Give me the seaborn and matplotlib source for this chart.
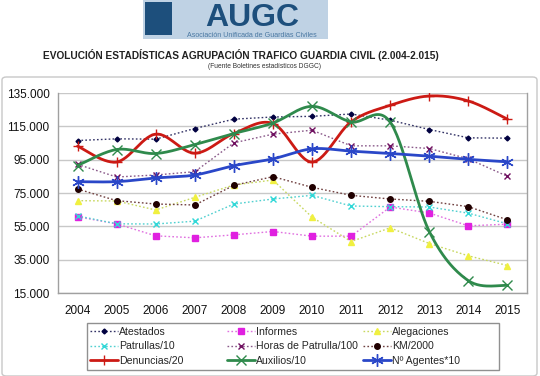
import numpy as np
import pandas as pd
import matplotlib
matplotlib.use("Agg")
import matplotlib.pyplot as plt
import seaborn as sns
from matplotlib.patches import Rectangle, FancyBboxPatch
from matplotlib.lines import Line2D

# Data
years = [2004, 2005, 2006, 2007, 2008, 2009, 2010, 2011, 2012, 2013, 2014, 2015]
atestados = [106500, 107500, 107300, 113700, 119300, 120600, 121000, 122400, 118700, 113100, 108100, 107900]
informes = [60700, 56500, 49300, 48100, 49900, 51900, 49100, 49100, 66600, 63000, 55300, 56300]
alegaciones = [70400, 70200, 64800, 72400, 79800, 82800, 60500, 45900, 54100, 44700, 37300, 31500]
patrullas = [61300, 56500, 56400, 58100, 68400, 71400, 73600, 67200, 66800, 66600, 62900, 56500]
horas = [92200, 84600, 85800, 87800, 105100, 110300, 112700, 103300, 103300, 101700, 95500, 85000]
km = [77400, 70400, 68400, 67800, 79600, 84800, 78400, 73600, 71400, 70000, 66800, 58900]
denuncias = [103100, 93600, 110300, 98900, 110700, 116700, 93600, 117700, 127600, 133200, 130200, 119300]
auxilios = [91500, 101100, 98700, 104100, 110700, 117000, 127000, 117700, 117500, 51900, 22400, 19600]
agentes = [81800, 81800, 84000, 85800, 91400, 95500, 101500, 100100, 98700, 97100, 95200, 93700]

ytick_vals = [15000, 35000, 55000, 75000, 95000, 115000, 135000]
ytick_labels = ["15.000", "35.000", "55.000", "75.000", "95.000", "115.000", "135.000"]

W, H = 540, 376


def smooth(xs, ys, n=30):
    # Excel-style smoothed line (Bezier through the points)
    p = np.column_stack([xs, ys]).astype(float)
    ext = np.vstack([p[0], p, p[-1]])
    out = []
    t = np.linspace(0, 1, n)[:, None]
    for i in range(len(p) - 1):
        p0, p1 = ext[i + 1], ext[i + 2]
        c1 = p0 + (ext[i + 2] - ext[i]) / 6
        c2 = p1 - (ext[i + 3] - ext[i + 1]) / 6
        seg = ((1 - t) ** 3) * p0 + 3 * ((1 - t) ** 2) * t * c1 + 3 * (1 - t) * t ** 2 * c2 + t ** 3 * p1
        out.append(seg if i == 0 else seg[1:])
    out = np.vstack(out)
    return out[:, 0], out[:, 1]


sns.set_style("white")
plt.rcParams['font.family'] = ['Liberation Sans', 'DejaVu Sans']

fig = plt.figure(figsize=(5.4, 3.76), dpi=100)

# Outer chart frame
fig.patches.append(FancyBboxPatch((2 / W, 0.0), 535 / W, 1 - 77 / H,
                                  boxstyle="round,pad=0,rounding_size=0.008",
                                  transform=fig.transFigure, fill=False,
                                  edgecolor="#c8c8c8", linewidth=1.0))

# Logo (drawn as shapes + text)
fig.patches.append(Rectangle((143 / W, 1 - 39 / H), 185 / W, 39 / H,
                             transform=fig.transFigure, facecolor="#bfd2e4", edgecolor="none"))
fig.patches.append(Rectangle((145 / W, 1 - 35 / H), 27 / W, 33 / H,
                             transform=fig.transFigure, facecolor="#1d4f7c", edgecolor="none"))
fig.text(252 / W, 1 - 25.5 / H, "AUGC", ha="center", va="baseline", fontsize=23,
         fontweight="bold", color="#1d4f7c")
fig.text(252 / W, 1 - 35.5 / H, "Asociación Unificada de Guardias Civiles", ha="center",
         va="center", fontsize=5.1, color="#4a78a2")

fig.text(241 / W, 1 - 55 / H,
         "EVOLUCIÓN ESTADÍSTICAS AGRUPACIÓN TRAFICO GUARDIA CIVIL (2.004-2.015)",
         ha="center", va="center", fontsize=7.3, fontweight="bold", color="#222222")
fig.text(264 / W, 1 - 66 / H, "(Fuente Boletines estadísticos DGGC)",
         ha="center", va="center", fontsize=4.8, color="#333333")

ax = fig.add_axes([58 / W, 1 - 293 / H, 469 / W, 200 / H])

dotted = [
    ("Atestados", atestados, "#333366", "D", "#000040", 2.5),
    ("Informes", informes, "#e070e0", "s", "#e020e0", 4),
    ("Alegaciones", alegaciones, "#c8d860", "^", "#f0f040", 4.5),
    ("Patrullas/10", patrullas, "#50d0d0", "x", "#30d8d8", 4),
    ("Horas de Patrulla/100", horas, "#8a5a8a", "x", "#701060", 4),
    ("KM/2000", km, "#704040", "o", "#200000", 4),
]
for name, vals, lc, mk, mc, ms in dotted:
    sns.lineplot(x=years, y=vals, ax=ax, color=lc, linestyle=(0, (1.2, 1.6)), linewidth=1.0,
                 marker=mk, markersize=ms, markerfacecolor=mc, markeredgecolor=mc,
                 markeredgewidth=1.0)

smooth_series = [
    ("Denuncias/20", denuncias, "#cc1a14", "+", 7),
    ("Auxilios/10", auxilios, "#2f8a4c", "x", 7),
    ("Nº Agentes*10", agentes, "#2a47c8", (6, 2, 0), 9),
]
for name, vals, c, mk, ms in smooth_series:
    sx, sy = smooth(years, vals)
    sns.lineplot(x=sx, y=sy, ax=ax, color=c, linewidth=2.0, sort=False, estimator=None)
    ax.plot(years, vals, linestyle="none", marker=mk, markersize=ms, color=c,
            markeredgewidth=1.0)

# Legend handles with markers
leg_handles = []
for name, vals, lc, mk, mc, ms in dotted:
    leg_handles.append(Line2D([], [], color=lc, linestyle=(0, (1.2, 1.6)), linewidth=1.0,
                              marker=mk, markersize=ms, markerfacecolor=mc,
                              markeredgecolor=mc, label=name))
for name, vals, c, mk, ms in smooth_series:
    leg_handles.append(Line2D([], [], color=c, linewidth=2.0, marker=mk, markersize=ms,
                              markeredgewidth=1.0, label=name))

ax.set_xlim(2003.5, 2015.5)
ax.set_ylim(15000, 135000)
ax.set_yticks(ytick_vals)
ax.set_yticklabels(ytick_labels)
ax.set_xticks(years)
ax.set_xticklabels([str(y) for y in years])
ax.set_xticks([y + 0.5 for y in years[:-1]], minor=True)
ax.tick_params(axis="x", which="major", length=0, pad=9, labelsize=8.5, colors="#111111")
ax.tick_params(axis="x", which="minor", length=4, color="#a0a0a0", direction="out")
ax.tick_params(axis="y", which="major", length=3, color="#a0a0a0", labelsize=8.5,
               labelcolor="#111111", pad=3)
ax.grid(axis="y", color="#c8c8c8", linewidth=1.0)
ax.set_axisbelow(True)
for s in ax.spines.values():
    s.set_color("#a0a0a0")
    s.set_linewidth(1.0)
ax.spines["top"].set_visible(False)
ax.set_xlabel("")
ax.set_ylabel("")

# Legend: three equal-width columns inside one frame
fig.patches.append(Rectangle((87 / W, 1 - 370 / H), 412 / W, 47 / H,
                             transform=fig.transFigure, fill=False,
                             edgecolor="#909090", linewidth=1.0))
col_x = [90, 227, 363]
columns = [[0, 3, 6], [1, 4, 7], [2, 5, 8]]
for cx, idx in zip(col_x, columns):
    leg = fig.legend([leg_handles[i] for i in idx], [leg_handles[i].get_label() for i in idx],
                     ncol=1, loc="upper left", bbox_to_anchor=(cx / W, 1 - 327 / H),
                     fontsize=7.6, frameon=False, handlelength=2.65, handletextpad=0.1,
                     labelspacing=0.42, borderpad=0, borderaxespad=0)

fig.savefig("out.png", dpi=100)
